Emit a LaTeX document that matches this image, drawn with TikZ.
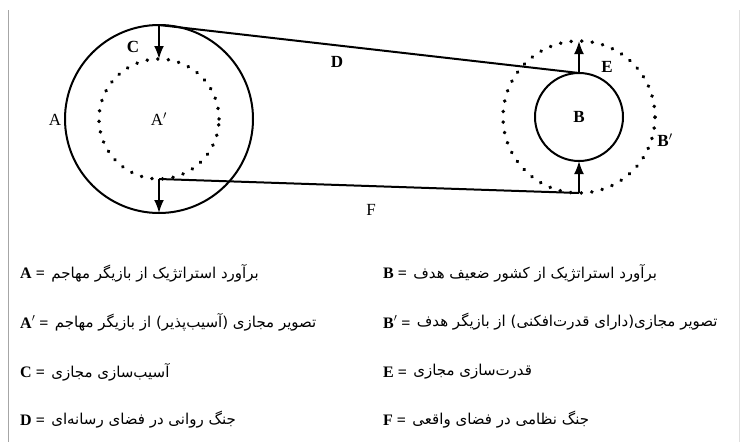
\documentclass[tikz,border=0pt]{standalone}
\usepackage{fontspec}
\setmainfont{Liberation Serif}
\newfontfamily\persianfont[Script=Arabic]{DejaVu Sans}
\TeXXeTstate=1
\usetikzlibrary{arrows.meta, positioning}
\tikzset{
  orbit/.style={
    circle, draw, line width=2pt,
    inner sep=0pt, outer sep=0pt
  },
  image/.style={
    circle, draw, line width=3.8pt,
    dash pattern=on 0.1pt off 10.5pt, line cap=round,
    inner sep=0pt, outer sep=0pt,
    font=\fontsize{17}{20}\selectfont
  },
  belt/.style={line width=2pt},
  pointer/.style={-{Latex[length=13pt, width=10pt]}, line width=2pt},
  letter/.style={font=\fontsize{17}{20}\selectfont, inner sep=0pt},
  boldletter/.style={letter, font=\fontsize{17}{20}\selectfont\bfseries},
  legendkey/.style={
    anchor=west, inner sep=0pt,
    font=\fontsize{16}{18}\selectfont\bfseries
  },
  legendtext/.style={
    anchor=west, inner sep=0pt,
    font=\fontsize{15}{18}\persianfont
  },
  border/.style={line width=1pt, color=gray!70}
}
\newcommand{\fa}[1]{\beginR #1\endR}

\begin{document}
\begin{tikzpicture}[x=1pt, y=-1pt]
\useasboundingbox (0,0) rectangle (742,442);

\def\leftX{20}
\def\rightX{383}

%% FRAME
\draw[border] (8,10) -- (8,442);
\draw[border, color=gray!25] (739,10) -- (739,442);

%% ATTACKER
\node[orbit, minimum size=188pt] (A) at (159,119) {};
\node[image, minimum size=120pt] (Ap) at (159,119) {A$'$};
\node[letter] (labA) at (55,120) {A};
\node[boldletter] (labC) at (133,47) {C};

%% TARGET
\node[orbit, minimum size=88pt, font=\fontsize{17}{20}\selectfont\bfseries] (B) at (579,117) {B};
\node[image, minimum size=152pt] (Bp) at (579,117) {};
\node[boldletter] (labE) at (607,67) {E};
\node[boldletter] (labBp) at (665,140) {B$'$};

%% BELTS
\draw[belt] (A.north) -- (B.north);
\draw[belt] (Ap.south) -- (Bp.south);
\node[boldletter] (labD) at (337,62) {D};
\node[letter] (labF) at (371,210) {F};

%% ARROWS
\draw[pointer] (A.north) -- (Ap.north);
\draw[pointer] (Ap.south) -- (A.south);
\draw[pointer] (B.north) -- (Bp.north);
\draw[pointer] (Bp.south) -- (B.south);

%% LEGEND, LEFT COLUMN
\node[legendkey] (keyA) at (\leftX,273) {A =};
\node[legendtext, right=6pt of keyA] (txtA) {\fa{برآورد استراتژیک از بازیگر مهاجم}};
\node[legendkey] (keyAp) at (\leftX,322) {A$'$ =};
\node[legendtext, right=6pt of keyAp] (txtAp) {\fa{تصویر مجازی (آسیب‌پذیر) از بازیگر مهاجم}};
\node[legendkey] (keyC) at (\leftX,372) {C =};
\node[legendtext, right=6pt of keyC] (txtC) {\fa{آسیب‌سازی مجازی}};
\node[legendkey] (keyD) at (\leftX,420) {D =};
\node[legendtext, right=6pt of keyD] (txtD) {\fa{جنگ روانی در فضای رسانه‌ای}};

%% LEGEND, RIGHT COLUMN
\node[legendkey] (keyB) at (\rightX,273) {B =};
\node[legendtext, right=6pt of keyB] (txtB) {\fa{برآورد استراتژیک از کشور ضعیف هدف}};
\node[legendkey] (keyBp) at (\rightX,322) {B$'$ =};
\node[legendtext, right=6pt of keyBp] (txtBp) {\fa{تصویر مجازی(دارای قدرت‌افکنی) از بازیگر هدف}};
\node[legendkey] (keyE) at (\rightX,372) {E =};
\node[legendtext, right=6pt of keyE] (txtE) {\fa{قدرت‌سازی مجازی}};
\node[legendkey] (keyF) at (\rightX,420) {F =};
\node[legendtext, right=6pt of keyF] (txtF) {\fa{جنگ نظامی در فضای واقعی}};

\end{tikzpicture}
\end{document}
